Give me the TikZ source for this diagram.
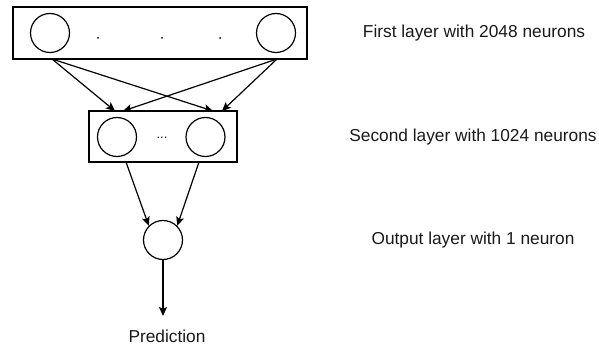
\documentclass[tikz,border=0pt]{standalone}
\usepackage{fontspec}
\setmainfont{Liberation Sans}
\usetikzlibrary{arrows.meta}
\begin{document}
\begin{tikzpicture}[x=1pt,y=-1pt,
  layerbox/.style={draw, line width=1.3pt, minimum width=#1, inner sep=0pt, rectangle},
  neuron/.style={draw, circle, line width=1.2pt, minimum size=39pt, inner sep=0pt},
  conn/.style={line width=1.2pt, -{Stealth[length=9pt,width=8pt,inset=2pt]}},
  lbl/.style={font=\fontsize{17.3}{20}\selectfont, text=black!90, inner sep=0pt}]
\useasboundingbox (0,0) rectangle (599,347);

% first layer
\node[layerbox=294pt, minimum height=52pt] (l1) at (160,33) {};
\node[neuron] (a1) at (50,33) {};
\node[neuron] (a2) at (276,33) {};
\foreach \x/\n in {98/d1,162/d2,220/d3}
  \node[circle, fill=black, inner sep=0pt, minimum size=2pt] (\n) at (\x,38) {};

% second layer
\node[layerbox=148pt, minimum height=51pt] (l2) at (163,136.5) {};
\node[neuron] (b1) at (117,137) {};
\node[neuron] (b2) at (205.5,137) {};
\node[lbl, font=\fontsize{13}{15}\selectfont] (bd) at (162,138) {...};

% output neuron
\node[neuron] (out) at (163,240) {};
\node[lbl] (pred) at (167,336) {Prediction};

% layer captions
\node[lbl] (t1) at (474,33) {First layer with 2048 neurons};
\node[lbl] (t2) at (473,137) {Second layer with 1024 neurons};
\node[lbl] (t3) at (473,240) {Output layer with 1 neuron};

% connector anchors on the layer boxes
\coordinate (s1) at (52,59);
\coordinate (s2) at (277,59);
\coordinate (e1) at (115,111);
\coordinate (e2) at (123,111);
\coordinate (e3) at (213,111);
\coordinate (e4) at (222,111);
\coordinate (u1) at (126,162);
\coordinate (u2) at (199,162);
\coordinate (p) at (163,316);

\draw[conn] (s1) -- (e1);
\draw[conn] (s1) -- (e3);
\draw[conn] (s2) -- (e2);
\draw[conn] (s2) -- (e4);
\draw[conn] (u1) -- (out.135);
\draw[conn] (u2) -- (out.45);
\draw[conn] (out.south) -- (p);
\end{tikzpicture}
\end{document}
